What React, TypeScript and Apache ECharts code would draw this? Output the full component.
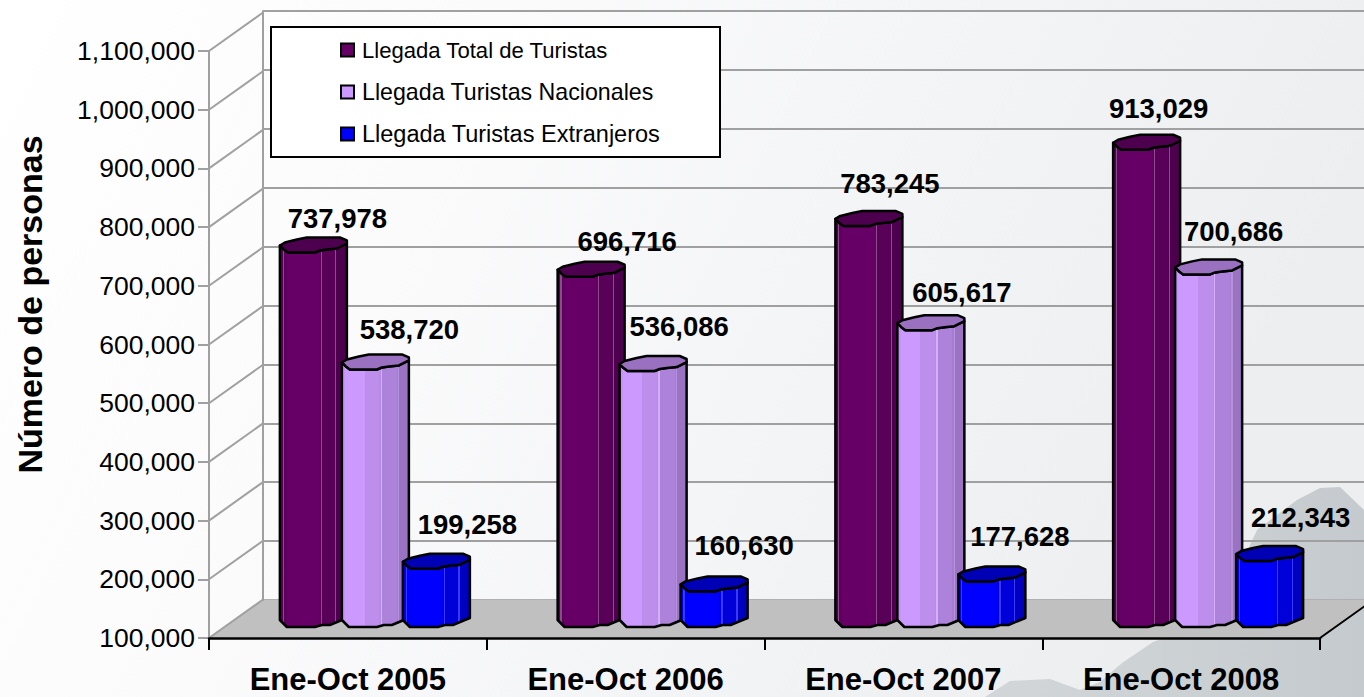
import React, { useEffect, useRef } from "react";
import * as echarts from "echarts";

const categories = ["Ene-Oct 2005", "Ene-Oct 2006", "Ene-Oct 2007", "Ene-Oct 2008"];
const seriesNames = ["Llegada Total de Turistas", "Llegada Turistas Nacionales", "Llegada Turistas Extranjeros"];
const totalTuristas = [737978, 696716, 783245, 913029];
const nacionales = [538720, 536086, 605617, 700686];
const extranjeros = [199258, 160630, 177628, 212343];
const seriesValues = [totalTuristas, nacionales, extranjeros];
const yTicks = [100000, 200000, 300000, 400000, 500000, 600000, 700000, 800000, 900000, 1000000, 1100000];

const FONT = '"Liberation Sans", Arial, sans-serif';
const DX = 54;
const DY = -38.5;
const GRAY = "#a0a0a0";
const BASE_LIFT = 11;
const BAR_W = 67;
const barOffsets = [-68, -6, 55];
const legendTops = [50, 91, 134];
const legendFontSizes = [22.1, 23.2, 23.5];
const legendTextPads = [4, 3, 6];

// silhouette of the faceted columns, relative to the left corner of each end
const capFront = [[0, 0], [4, 4], [8, 7], [35, 7], [40, 5], [47, 4], [57, 3], [67, -2]];
const capBack = [[67, -5], [60, -8], [27, -8], [17, -6], [5, -3]];
const baseFront = [[67, -2], [62, 0], [50, 5], [42, 5], [35, 7], [7, 7], [0, 0]];

const legendColors = ["#660066", "#cc99ff", "#0000ff"];
const capColors = ["#4d004d", "#9a70c0", "#0000b4"];
const facetStops = [
  [[0, "#550055"], [0.04, "#8a4d8a"], [0.06, "#5e005e"], [0.1, "#660066"], [0.56, "#640064"], [0.6, "#5c005c"], [0.61, "#8a4d8a"], [0.625, "#590059"], [0.82, "#520052"], [0.83, "#8a4d8a"], [0.845, "#4d004d"], [1, "#480048"]],
  [[0, "#c493f6"], [0.05, "#cc99ff"], [0.32, "#cc99ff"], [0.34, "#bd8eec"], [0.56, "#b98be8"], [0.58, "#d5b0fa"], [0.6, "#ad82da"], [0.82, "#a67cd0"], [0.84, "#b593dc"], [0.86, "#9a73c2"], [1, "#9169b6"]],
  [[0, "#0000f0"], [0.04, "#3a3aff"], [0.06, "#0000ff"], [0.56, "#0000f4"], [0.6, "#0000e0"], [0.61, "#3a3aff"], [0.63, "#0000d8"], [0.82, "#0000cc"], [0.83, "#3a3aff"], [0.85, "#0000c0"], [1, "#0000b0"]],
];
const labelNudges = [
  [[24, -34], [36, -35], [21, -42], [12, -41]],
  [[34, -40], [26, -45], [31, -38], [25, -43]],
  [[31, -44], [30, -46], [28, -45], [31, -44]],
];

const fmt = (v: number) => v.toLocaleString("en-US");

function hardStops(stops: any[]) {
  const out: any[] = [];
  stops.forEach((s, i) => {
    out.push({ offset: s[0], color: s[1] });
    if (i + 1 < stops.length) out.push({ offset: stops[i + 1][0], color: s[1] });
  });
  return out;
}

function columnSeries(seriesIdx: number) {
  return {
    type: "custom",
    name: seriesNames[seriesIdx],
    xAxisIndex: 0,
    yAxisIndex: 0,
    clip: false,
    z: 3 + seriesIdx,
    itemStyle: { color: legendColors[seriesIdx] },
    encode: { x: 0, y: 1 },
    data: seriesValues[seriesIdx].map((v, i) => [i, v]),
    renderItem: (_p: any, api: any) => {
      const c = api.value(0);
      const v = api.value(1);
      const [cx, yFront] = api.coord([c, v]);
      const yFloor = api.coord([c, yTicks[0]])[1];
      const left = cx + barOffsets[seriesIdx];
      const topY = yFront - BASE_LIFT - 7;
      const botY = yFloor - BASE_LIFT - 7;
      const top = capFront.map((p) => [left + p[0], topY + p[1]]);
      const bot = baseFront.map((p) => [left + p[0], botY + p[1]]);
      const cap = top.concat(capBack.map((p) => [left + p[0], topY + p[1]]));
      const nudge = labelNudges[seriesIdx][c];
      const stroke = { stroke: "#000", lineWidth: 2.5, lineJoin: "round" };
      return {
        type: "group",
        children: [
          {
            type: "polygon",
            shape: { points: top.concat(bot) },
            style: {
              fill: new echarts.graphic.LinearGradient(0, 0, 1, 0, hardStops(facetStops[seriesIdx])),
              ...stroke,
            },
          },
          { type: "polygon", shape: { points: cap }, style: { fill: capColors[seriesIdx], ...stroke } },
          {
            type: "text",
            z2: 100,
            style: {
              text: fmt(v),
              x: left + BAR_W / 2 + nudge[0],
              y: yFront - BASE_LIFT + nudge[1],
              align: "center",
              verticalAlign: "middle",
              font: `bold 27.5px ${FONT}`,
              fill: "#000",
            },
          },
        ],
      };
    },
  };
}

export default function App() {
  const ref = useRef<HTMLDivElement>(null);
  useEffect(() => {
    const chart = echarts.init(ref.current!, undefined, { renderer: "svg" });
    chart.setOption({
      animation: false,
      backgroundColor: new echarts.graphic.LinearGradient(0, 0, 1, 0.25, [
        { offset: 0, color: "#ffffff" },
        { offset: 0.35, color: "#fbfbfc" },
        { offset: 1, color: "#eceef0" },
      ]),
      grid: [
        { left: 209, right: 44, top: 51, bottom: 59 },
        { left: 263, right: 0, top: 11, bottom: 97 },
      ],
      xAxis: [
        {
          type: "category",
          gridIndex: 0,
          data: categories,
          axisLine: { lineStyle: { color: "#000", width: 2.5 } },
          axisTick: { show: true, length: 12, alignWithLabel: false, lineStyle: { color: "#000", width: 2 } },
          axisLabel: { color: "#000", fontFamily: FONT, fontWeight: "bold", fontSize: 31, margin: 26 },
          splitLine: { show: false },
          z: 2,
        },
        { type: "value", gridIndex: 1, show: false, min: 0, max: 1 },
      ],
      yAxis: [
        {
          type: "value",
          gridIndex: 0,
          min: 100000,
          max: 1100000,
          interval: 100000,
          name: "Número de personas",
          nameLocation: "middle",
          nameRotate: 90,
          nameGap: 162,
          nameTextStyle: { color: "#000", fontFamily: FONT, fontWeight: "bold", fontSize: 34, padding: [0, 0, 0, 80] },
          axisLine: { show: true, lineStyle: { color: GRAY, width: 2 } },
          axisTick: { show: true, length: 11, lineStyle: { color: GRAY, width: 2 } },
          axisLabel: { color: "#000", fontFamily: FONT, fontSize: 26.5, margin: 14, formatter: (v: number) => fmt(v) },
          splitLine: { show: false },
        },
        {
          type: "value",
          gridIndex: 1,
          position: "left",
          min: 100000,
          max: 1100000,
          interval: 100000,
          axisLine: { show: true, lineStyle: { color: GRAY, width: 2 } },
          axisTick: { show: false },
          axisLabel: { show: false },
          splitLine: { show: true, lineStyle: { color: GRAY, width: 2 } },
        },
      ],
      legend: seriesNames.map((name, i) => ({
        data: [name],
        left: 340,
        top: legendTops[i] - 10.5 - (legendTextPads[i] - 3) / 2,
        padding: 0,
        icon: "rect",
        itemWidth: 13,
        itemHeight: 13,
        selectedMode: false,
        z: 6,
        itemStyle: { borderColor: "#000", borderWidth: 2 },
        textStyle: { color: "#000", fontFamily: FONT, fontSize: legendFontSizes[i], padding: [legendTextPads[i], 0, 0, 3] },
      })),
      graphic: {
        elements: [
          {
            type: "polygon",
            z: -1,
            silent: true,
            shape: {
              points: [[985, 697], [1010, 681], [1050, 679], [1080, 690], [1100, 682], [1122, 663], [1153, 642], [1200, 625], [1243, 560], [1257, 530], [1297, 500], [1320, 488], [1340, 487], [1364, 510], [1364, 697]],
            },
            style: {
              fill: new echarts.graphic.LinearGradient(0, 0, 1, 0, [
                { offset: 0, color: "#d2d6d8" },
                { offset: 0.5, color: "#ccd1d4" },
                { offset: 1, color: "#c4cacd" },
              ]),
            },
          },
          {
            type: "rect",
            z: 5,
            silent: true,
            shape: { x: 271, y: 27, width: 449, height: 130 },
            style: { fill: "#fff", stroke: "#000", lineWidth: 2 },
          },
        ],
      },
      series: [
        {
          type: "custom",
          xAxisIndex: 0,
          yAxisIndex: 0,
          clip: false,
          silent: true,
          z: 0,
          data: [[0]],
          renderItem: (_p: any, api: any) => {
            const l = api.coord([0, yTicks[0]]);
            const size = api.size([1, 0]);
            const x0 = l[0] - size[0] / 2;
            const x1 = x0 + size[0] * categories.length;
            const y = l[1];
            return {
              type: "group",
              children: [
                {
                  type: "polygon",
                  shape: { points: [[x0, y], [x1, y], [x1 + DX, y + DY], [x0 + DX, y + DY]] },
                  style: { fill: "#c0c0c0" },
                },
                { type: "line", shape: { x1: x1, y1: y, x2: x1 + DX, y2: y + DY }, style: { stroke: "#000", lineWidth: 2 } },
              ],
            };
          },
        },
        {
          type: "custom",
          xAxisIndex: 0,
          yAxisIndex: 0,
          clip: false,
          silent: true,
          z: 1,
          data: yTicks.map((t) => [0, t]),
          renderItem: (_p: any, api: any) => {
            const p = api.coord([0, api.value(1)]);
            const x0 = p[0] - api.size([1, 0])[0] / 2;
            return {
              type: "line",
              shape: { x1: x0, y1: p[1], x2: x0 + DX, y2: p[1] + DY },
              style: { stroke: GRAY, lineWidth: 2 },
            };
          },
        },
        columnSeries(0),
        columnSeries(1),
        columnSeries(2),
      ],
    });
    return () => chart.dispose();
  }, []);
  return <div ref={ref} style={{ position: "absolute", left: 0, top: 0, width: 1364, height: 697 }} />;
}
